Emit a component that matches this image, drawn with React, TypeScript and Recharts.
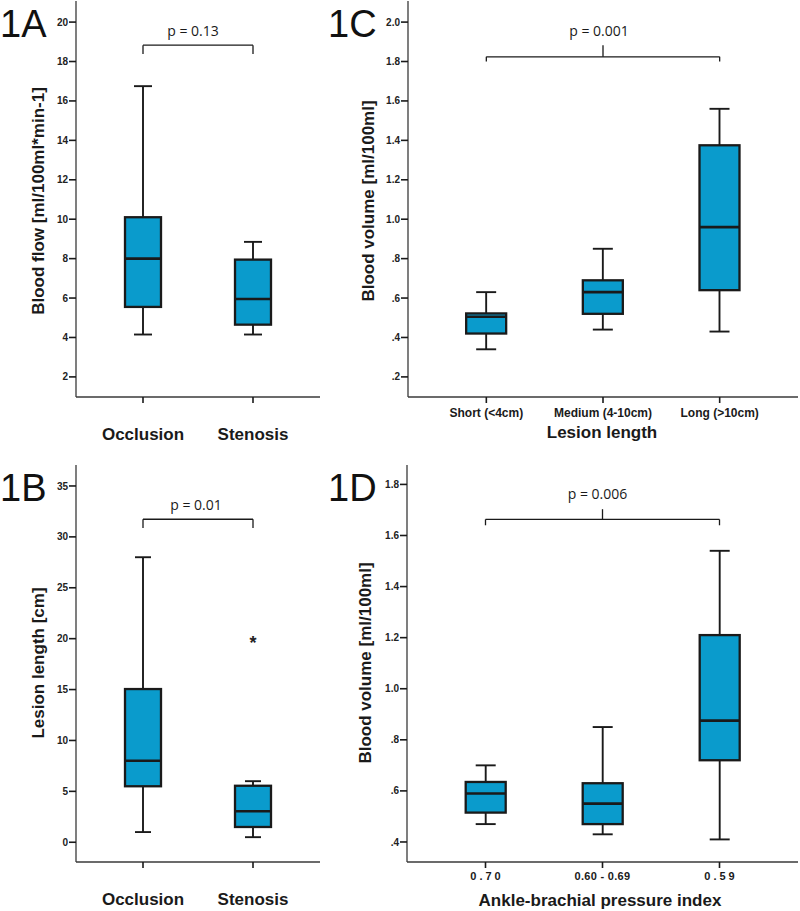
import React from 'react';
import { ComposedChart, Bar, Scatter, XAxis, YAxis, ReferenceLine } from 'recharts';

// 1A: blood flow by lesion type
const lesionTypes = ['Occlusion', 'Stenosis'];
const flowMin = [4.15, 4.15];
const flowQ1 = [5.55, 4.65];
const flowMedian = [8.0, 5.95];
const flowQ3 = [10.1, 7.95];
const flowMax = [16.75, 8.85];
const flowTicks = [2, 4, 6, 8, 10, 12, 14, 16, 18, 20];

// 1B: lesion length by lesion type
const lengthMin = [1.0, 0.5];
const lengthQ1 = [5.5, 1.5];
const lengthMedian = [8.0, 3.05];
const lengthQ3 = [15.05, 5.55];
const lengthMax = [28.0, 6.0];
const lengthOutliers = [null, 20];
const lengthTicks = [0, 5, 10, 15, 20, 25, 30, 35];

// 1C: blood volume by lesion length
const lengthGroups = ['Short (<4cm)', 'Medium (4-10cm)', 'Long (>10cm)'];
const volLenMin = [0.34, 0.44, 0.43];
const volLenQ1 = [0.42, 0.52, 0.64];
const volLenMedian = [0.505, 0.63, 0.96];
const volLenQ3 = [0.522, 0.69, 1.375];
const volLenMax = [0.63, 0.85, 1.56];
const volLenTicks = [0.2, 0.4, 0.6, 0.8, 1.0, 1.2, 1.4, 1.6, 1.8, 2.0];

// 1D: blood volume by ankle-brachial pressure index
const abiGroups = ['0.70', '0.60 - 0.69', '0.59'];
const volAbiMin = [0.47, 0.43, 0.41];
const volAbiQ1 = [0.515, 0.47, 0.72];
const volAbiMedian = [0.59, 0.55, 0.875];
const volAbiQ3 = [0.635, 0.63, 1.21];
const volAbiMax = [0.7, 0.85, 1.54];
const volAbiTicks = [0.4, 0.6, 0.8, 1.0, 1.2, 1.4, 1.6, 1.8];

const pValues = ['p = 0.13', 'p = 0.01', 'p = 0.001', 'p = 0.006'];

const INK = '#1a1a1a';
const AXIS = '#3a3a3a';
const BOX_FILL = '#0a9bcc';
const SANS = '"Liberation Sans", Arial, sans-serif';
const SOFT = '"Open Sans", sans-serif';

type Row = { group: string; min: number; q1: number; median: number; q3: number; max: number; outlier: number | null };

function toRows(groups: string[], min: number[], q1: number[], med: number[], q3: number[], max: number[], outliers?: (number | null)[]): Row[] {
    return groups.map((g, i) => ({
        group: g, min: min[i], q1: q1[i], median: med[i], q3: q3[i], max: max[i],
        outlier: outliers ? outliers[i] : null,
    }));
}

const flowRows = toRows(lesionTypes, flowMin, flowQ1, flowMedian, flowQ3, flowMax);
const lengthRows = toRows(lesionTypes, lengthMin, lengthQ1, lengthMedian, lengthQ3, lengthMax, lengthOutliers);
const volLenRows = toRows(lengthGroups, volLenMin, volLenQ1, volLenMedian, volLenQ3, volLenMax);
const volAbiRows = toRows(abiGroups, volAbiMin, volAbiQ1, volAbiMedian, volAbiQ3, volAbiMax);

// the bar spans min..max, so the other stats are placed along it on the same linear scale
const makeBoxShape = (boxW: number, capW: number) => (props: any) => {
    const { x, y, width, height, payload } = props;
    const top = Math.min(y, y + height);
    const bottom = Math.max(y, y + height);
    const span = payload.max - payload.min;
    const py = (v: number) => bottom - ((v - payload.min) / span) * (bottom - top);
    const cx = x + width / 2;
    const line = { stroke: INK, strokeWidth: 1.9 };
    return (
        <g>
            <line x1={cx} x2={cx} y1={py(payload.max)} y2={py(payload.q3)} {...line} />
            <line x1={cx} x2={cx} y1={py(payload.q1)} y2={py(payload.min)} {...line} />
            <line x1={cx - capW / 2} x2={cx + capW / 2} y1={py(payload.max)} y2={py(payload.max)} {...line} />
            <line x1={cx - capW / 2} x2={cx + capW / 2} y1={py(payload.min)} y2={py(payload.min)} {...line} />
            <rect x={cx - boxW / 2} y={py(payload.q3)} width={boxW} height={py(payload.q1) - py(payload.q3)}
                fill={BOX_FILL} stroke={INK} strokeWidth={2.3} />
            <line x1={cx - boxW / 2} x2={cx + boxW / 2} y1={py(payload.median)} y2={py(payload.median)}
                stroke={INK} strokeWidth={2.6} />
        </g>
    );
};

const StarShape = (props: any) => {
    if (props.payload == null || props.payload.outlier == null || props.cy == null || isNaN(props.cy)) return <g />;
    return (
        <text x={props.cx} y={props.cy + 10} textAnchor="middle" fontSize={18} fontWeight="bold" fontFamily={SANS} fill="#222">*</text>
    );
};

const decimalFmt = (v: number) => (v < 1 ? '.' + Math.round(v * 10) : v.toFixed(1));

const AbiTick = (props: any) => {
    const { x, y, payload } = props;
    const spaced = payload.value !== '0.60 - 0.69';
    return (
        <text x={x + (spaced ? 1.5 : 0)} y={y} dy="0.71em" textAnchor="middle" fontFamily={SANS} fontWeight="bold"
            fontSize={11} fill={INK} style={{ letterSpacing: spaced ? 3 : 0.3 }}>
            {payload.value}
        </text>
    );
};

type Bracket = { from: string; to: string; mid?: string; y: number; armY: number; tipY?: number; text: string; offset: number; dx?: number };

type PanelProps = {
    rows: Row[];
    width: number;
    height: number;
    margin: { top: number; right: number; bottom: number; left: number };
    xHeight: number;
    domain: [number, number];
    ticks: number[];
    tickFmt?: (v: number) => string;
    boxW: number;
    capW: number;
    yTitle: string;
    yTitleX: number;
    yTitleY: number;
    xTick: any;
    xTickMargin: number;
    xTitle?: string;
    xTitleX?: number;
    xTitleY?: number;
    bracket: Bracket;
};

function BoxPanel(p: PanelProps) {
    const b = p.bracket;
    const bracketLine = { stroke: INK, strokeWidth: 1.3, ifOverflow: 'visible' as const };
    const pLabel = { value: b.text, position: 'top' as const, offset: b.offset, fill: INK, fontSize: 14, fontFamily: SOFT, dx: b.dx ?? 0 };
    const hasOutliers = p.rows.some((r) => r.outlier != null);
    const pad = p.rows.length === 2 ? 12 : 20;
    return (
        <ComposedChart width={p.width} height={p.height} data={p.rows} margin={p.margin}>
            <XAxis dataKey="group" type="category" interval={0} height={p.xHeight} padding={{ left: pad, right: pad }}
                axisLine={{ stroke: AXIS, strokeWidth: 1.3 }} tickLine={{ stroke: INK, strokeWidth: 1.6 }} tickSize={6}
                tickMargin={p.xTickMargin} tick={p.xTick}
                label={p.xTitle ? () => (
                    <text x={p.xTitleX} y={p.xTitleY} textAnchor="middle" fontFamily={SANS} fontWeight="bold" fontSize={17} fill={INK}>{p.xTitle}</text>
                ) : undefined} />
            <XAxis xAxisId="top" orientation="top" height={0} tick={false} tickLine={false} axisLine={{ stroke: AXIS, strokeWidth: 1.3 }} />
            <YAxis type="number" domain={p.domain} ticks={p.ticks} interval={0} allowDataOverflow width={40}
                tickFormatter={p.tickFmt} tickSize={7} tickMargin={1}
                axisLine={{ stroke: AXIS, strokeWidth: 1.3 }} tickLine={{ stroke: INK, strokeWidth: 1.6 }}
                tick={{ fontSize: 10, fontWeight: 'bold', fill: '#222', fontFamily: SANS }}
                label={() => (
                    <text x={p.yTitleX} y={p.yTitleY} transform={`rotate(-90 ${p.yTitleX} ${p.yTitleY})`} textAnchor="middle"
                        fontFamily={SANS} fontWeight="bold" fontSize={17} fill={INK}>{p.yTitle}</text>
                )} />
            <YAxis yAxisId="r" orientation="right" width={0} tick={false} tickLine={false} axisLine={{ stroke: AXIS, strokeWidth: 1.3 }} />
            <Bar dataKey={(d: Row) => [d.min, d.max]} isAnimationActive={false} shape={makeBoxShape(p.boxW, p.capW)} />
            {hasOutliers && <Scatter dataKey="outlier" isAnimationActive={false} shape={StarShape} />}
            <ReferenceLine segment={[{ x: b.from, y: b.y }, { x: b.to, y: b.y }]} {...bracketLine} label={b.mid ? undefined : pLabel} />
            <ReferenceLine segment={[{ x: b.from, y: b.y }, { x: b.from, y: b.armY }]} {...bracketLine} />
            <ReferenceLine segment={[{ x: b.to, y: b.y }, { x: b.to, y: b.armY }]} {...bracketLine} />
            {b.mid && b.tipY != null && (
                <ReferenceLine segment={[{ x: b.mid, y: b.y }, { x: b.mid, y: b.tipY }]} {...bracketLine} label={pLabel} />
            )}
        </ComposedChart>
    );
}

const catTick = { fontSize: 17, fontWeight: 'bold', fill: INK, fontFamily: SANS };
const smallCatTick = { fontSize: 12, fontWeight: 'bold', fill: INK, fontFamily: SANS };

export default function App() {
    const panelText = { fontFamily: SANS, fontSize: 38, fill: '#111' };
    return (
        <div style={{ position: 'absolute', left: 0, top: 0, width: 800, height: 911, background: '#fff' }}>
            <div style={{ position: 'absolute', left: 0, top: 0 }}>
                <BoxPanel rows={flowRows} width={330} height={450} margin={{ top: 1, right: 10, bottom: 0, left: 36 }} xHeight={53}
                    domain={[0.98, 21.07]} ticks={flowTicks} boxW={36} capW={18}
                    yTitle="Blood flow [ml/100ml*min-1]" yTitleX={44} yTitleY={201}
                    xTick={catTick} xTickMargin={25}
                    bracket={{ from: 'Occlusion', to: 'Stenosis', y: 18.83, armY: 18.38, text: pValues[0], offset: 9, dx: -5 }} />
            </div>
            <div style={{ position: 'absolute', left: 330, top: 0 }}>
                <BoxPanel rows={volLenRows} width={470} height={450} margin={{ top: 1, right: 2, bottom: 0, left: 38 }} xHeight={53}
                    domain={[0.098, 2.107]} ticks={volLenTicks} tickFmt={decimalFmt} boxW={40} capW={20}
                    yTitle="Blood volume [ml/100ml]" yTitleX={43.5} yTitleY={201}
                    xTick={smallCatTick} xTickMargin={5}
                    xTitle="Lesion length" xTitleX={272} xTitleY={438}
                    bracket={{ from: 'Short (<4cm)', to: 'Long (>10cm)', mid: 'Medium (4-10cm)', y: 1.824, armY: 1.8, tipY: 1.883, text: pValues[2], offset: 9, dx: -4 }} />
            </div>
            <div style={{ position: 'absolute', left: 0, top: 450 }}>
                <BoxPanel rows={lengthRows} width={330} height={461} margin={{ top: 15, right: 10, bottom: 0, left: 36 }} xHeight={49}
                    domain={[-1.94, 37.06]} ticks={lengthTicks} boxW={36} capW={16}
                    yTitle="Lesion length [cm]" yTitleX={44} yTitleY={213}
                    xTick={catTick} xTickMargin={25}
                    bracket={{ from: 'Occlusion', to: 'Stenosis', y: 31.73, armY: 30.87, text: pValues[1], offset: 9, dx: -2 }} />
            </div>
            <div style={{ position: 'absolute', left: 330, top: 450 }}>
                <BoxPanel rows={volAbiRows} width={470} height={461} margin={{ top: 15, right: 2, bottom: 0, left: 37 }} xHeight={49}
                    domain={[0.3216, 1.876]} ticks={volAbiTicks} tickFmt={decimalFmt} boxW={40} capW={20}
                    yTitle="Blood volume [ml/100ml]" yTitleX={40.5} yTitleY={213}
                    xTick={<AbiTick />} xTickMargin={4}
                    xTitle="Ankle-brachial pressure index" xTitleX={270} xTitleY={456}
                    bracket={{ from: '0.70', to: '0.59', mid: '0.60 - 0.69', y: 1.663, armY: 1.64, tipY: 1.703, text: pValues[3], offset: 10, dx: -5 }} />
            </div>
            <svg width={800} height={911} style={{ position: 'absolute', left: 0, top: 0, pointerEvents: 'none' }}>
                <text x={0} y={37} {...panelText}>1A</text>
                <text x={328} y={37} {...panelText}>1C</text>
                <text x={0} y={501} {...panelText}>1B</text>
                <text x={328} y={501} {...panelText}>1D</text>
            </svg>
        </div>
    );
}
